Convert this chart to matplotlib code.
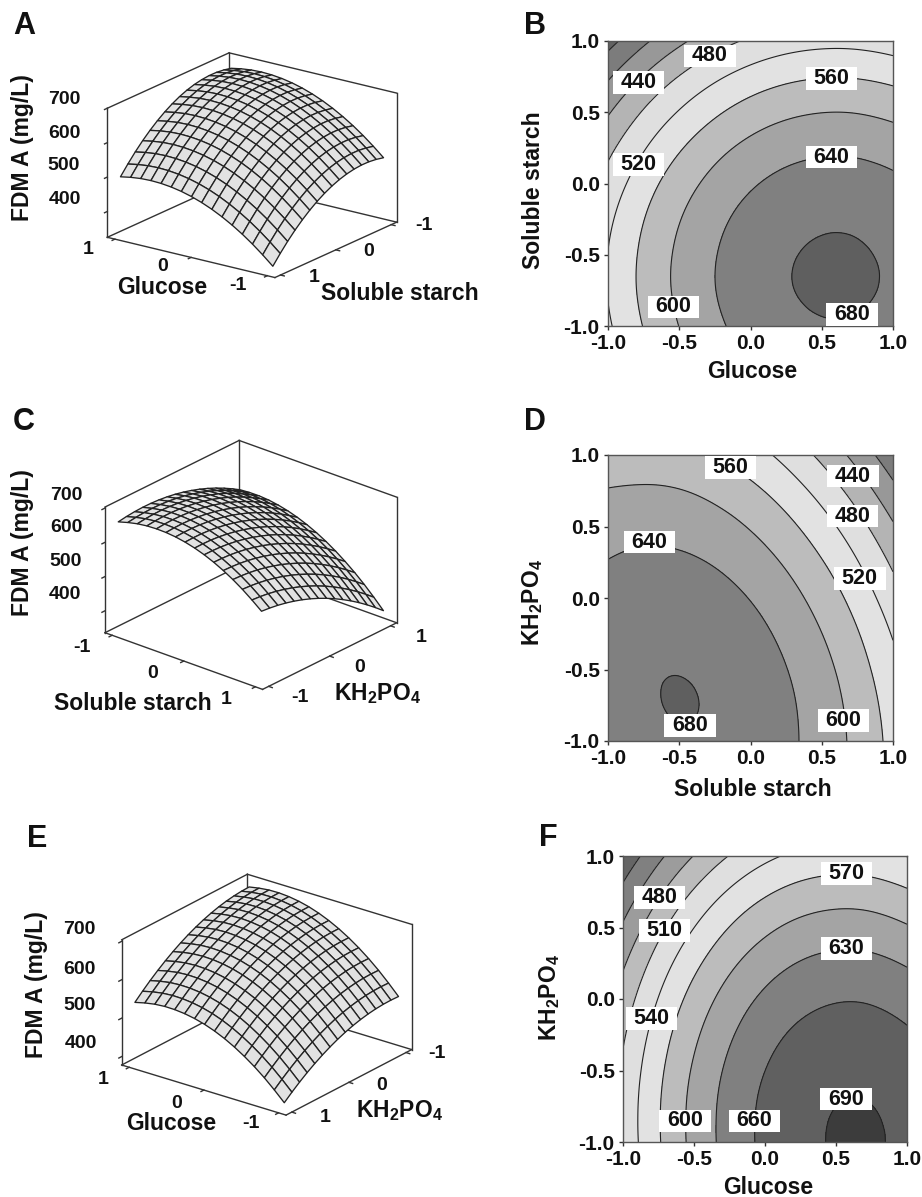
import numpy as np
import matplotlib
matplotlib.use("Agg")
import matplotlib.pyplot as plt
import matplotlib.tri as mtri
from matplotlib.patches import Rectangle
from mpl_toolkits.mplot3d import proj3d

FIG_W, FIG_H = 922, 1197

plt.rcParams['font.family'] = ['Liberation Sans', 'DejaVu Sans']
plt.rcParams['font.weight'] = 'bold'
plt.rcParams['mathtext.fontset'] = 'custom'
plt.rcParams['mathtext.rm'] = 'Liberation Sans:bold'
plt.rcParams['mathtext.bf'] = 'Liberation Sans:bold'
plt.rcParams['mathtext.default'] = 'regular'

KH2PO4 = r'KH$_{2}$PO$_{4}$'

# coded factor levels the response was read at
grid_levels = [-1.0, -0.75, -0.5, -0.25, 0.0, 0.25, 0.5, 0.75, 1.0]

# FDM A (mg/L), rows go with y = -1 .. 1, columns with x = -1 .. 1
glucose_starch_z = [
    [514.2, 561.4, 600.6, 631.8, 655.0, 670.2, 677.4, 676.6, 667.8],
    [521.6, 568.8, 608.0, 639.2, 662.4, 677.6, 684.8, 684.0, 675.2],
    [520.7, 567.9, 607.1, 638.3, 661.5, 676.7, 683.9, 683.1, 674.3],
    [511.8, 559.0, 598.2, 629.4, 652.6, 667.8, 675.0, 674.2, 665.4],
    [494.7, 541.9, 581.1, 612.3, 635.5, 650.7, 657.9, 657.1, 648.3],
    [469.5, 516.7, 555.9, 587.1, 610.3, 625.5, 632.7, 631.9, 623.1],
    [436.2, 483.4, 522.6, 553.8, 577.0, 592.2, 599.4, 598.6, 589.8],
    [394.8, 442.0, 481.2, 512.4, 535.6, 550.8, 558.0, 557.2, 548.4],
    [345.2, 392.4, 431.6, 462.8, 486.0, 501.2, 508.4, 507.6, 498.8],
]
starch_kh2po4_z = [
    [658.4, 672.2, 678.0, 676.0, 666.1, 648.4, 622.7, 589.2, 547.8],
    [664.2, 676.5, 681.0, 677.5, 666.2, 647.0, 619.9, 585.0, 542.1],
    [665.4, 676.3, 679.3, 674.4, 661.6, 641.0, 612.5, 576.1, 531.8],
    [662.0, 671.4, 672.9, 666.6, 652.4, 630.3, 600.4, 562.6, 516.9],
    [653.9, 661.9, 662.0, 654.2, 638.6, 615.1, 583.7, 544.4, 497.3],
    [641.2, 647.7, 646.4, 637.2, 620.1, 595.2, 562.4, 521.7, 473.1],
    [623.9, 629.0, 626.2, 615.6, 597.1, 570.7, 536.4, 494.3, 444.3],
    [601.9, 604.6, 601.4, 589.3, 569.4, 541.5, 505.8, 462.3, 410.8],
    [575.3, 577.6, 571.9, 558.4, 537.0, 507.8, 470.6, 425.6, 372.7],
]
glucose_kh2po4_z = [
    [518.0, 567.2, 608.4, 641.4, 666.3, 683.1, 691.7, 692.2, 684.6],
    [518.5, 567.4, 608.2, 640.8, 665.4, 681.8, 690.0, 690.2, 682.2],
    [514.6, 563.1, 603.5, 635.8, 659.9, 675.9, 683.8, 683.6, 675.3],
    [506.2, 554.3, 594.3, 626.2, 650.0, 665.6, 673.2, 672.6, 663.8],
    [493.3, 541.0, 580.7, 612.2, 635.6, 650.8, 658.0, 657.0, 647.9],
    [475.8, 523.2, 562.5, 593.6, 616.6, 631.5, 638.3, 636.9, 627.5],
    [453.9, 500.9, 539.8, 570.6, 593.2, 607.7, 614.1, 612.4, 602.5],
    [427.5, 474.1, 512.6, 543.0, 565.3, 579.4, 585.4, 583.3, 573.1],
    [396.5, 442.8, 480.9, 511.0, 532.9, 546.6, 552.3, 549.8, 539.2],
]

contour_ticks = [-1.0, -0.5, 0.0, 0.5, 1.0]
contour_ticklabels = ['-1.0', '-0.5', '0.0', '0.5', '1.0']
surface_z_ticks = [400, 500, 600, 700]
surface_xy_ticks = [-1, 0, 1]

levels_40 = [360, 400, 440, 480, 520, 560, 600, 640, 680]
greys_40 = ['#626262', '#7c7c7c', '#989898', '#b4b4b4', '#dfdfdf', '#e2e2e2',
            '#bcbcbc', '#a4a4a4', '#808080', '#5f5f5f']
levels_30 = [420, 450, 480, 510, 540, 570, 600, 630, 660, 690]
greys_30 = ['#656565', '#808080', '#9c9c9c', '#bcbcbc', '#dfdfdf', '#e2e2e2',
            '#bcbcbc', '#a4a4a4', '#808080', '#606060', '#3c3c3c']

labels_b = [('440', -0.786, 0.708), ('480', -0.285, 0.895), ('560', 0.568, 0.738),
            ('520', -0.786, 0.135), ('640', 0.568, 0.185), ('600', -0.54, -0.865),
            ('680', 0.711, -0.92)]
labels_d = [('560', -0.14, 0.911), ('440', 0.72, 0.853), ('480', 0.716, 0.573),
            ('640', -0.709, 0.391), ('520', 0.767, 0.137), ('600', 0.653, -0.858),
            ('680', -0.423, -0.893)]
labels_f = [('480', -0.742, 0.709), ('570', 0.573, 0.879), ('510', -0.707, 0.478),
            ('630', 0.573, 0.355), ('540', -0.80, -0.136), ('690', 0.568, -0.70),
            ('600', -0.561, -0.853), ('660', -0.075, -0.853)]

fig = plt.figure(figsize=(FIG_W / 100, FIG_H / 100), dpi=100)


def put_text(x, y, s, size=16.5, rotation=0):
    # x, y in image pixels, y going down
    fig.text(x / FIG_W, 1 - y / FIG_H, s, fontsize=size, fontweight='bold', color='#111111',
             ha='center', va='center', rotation=rotation)


def smooth(z, xi, yi):
    # the read grid goes through matplotlib's cubic triangle interpolator for drawing
    gx, gy = np.meshgrid(grid_levels, grid_levels)
    tri = mtri.Triangulation(gx.ravel(), gy.ravel())
    interp = mtri.CubicTriInterpolator(tri, np.array(z).ravel(), kind='min_E')
    xx, yy = np.meshgrid(xi, yi)
    return xx, yy, np.ma.filled(interp(xx, yy), np.nan)


def contour_panel(box, z, levels, greys, labels):
    x0, y0, x1, y1 = box
    ax = fig.add_axes([x0 / FIG_W, 1 - y1 / FIG_H, (x1 - x0) / FIG_W, (y1 - y0) / FIG_H])
    fine = np.linspace(-1, 1, 241)
    xx, yy, zz = smooth(z, fine, fine)
    bounds = [0] + levels + [1000]
    ax.contourf(xx, yy, zz, levels=bounds, colors=greys)
    ax.contour(xx, yy, zz, levels=levels, colors='#222222', linewidths=0.8)
    for text, lx, ly in labels:
        ax.add_patch(Rectangle((lx - 0.182, ly - 0.079), 0.364, 0.158, fc='white', ec='none', zorder=4))
        ax.text(lx, ly, text, ha='center', va='center', fontsize=15.5, fontweight='bold',
                color='#111111', zorder=5)
    ax.set_xlim(-1, 1)
    ax.set_ylim(-1, 1)
    ax.set_xticks(contour_ticks)
    ax.set_yticks(contour_ticks)
    ax.set_xticklabels(contour_ticklabels)
    ax.set_yticklabels(contour_ticklabels)
    ax.tick_params(length=3, width=1, labelsize=15, pad=3, color='#333333', labelcolor='#111111')
    for side in ax.spines.values():
        side.set_color('#555555')
        side.set_linewidth(1.0)
    return ax


def surface_panel(z, flip, zlim, azim, elev, height, left_px, right_px):
    ax = fig.add_axes([0, 0, 0.4, 0.4], projection='3d')
    ax.set_proj_type('ortho')
    ax.computed_zorder = False
    ax.set_axis_off()
    ax.patch.set_visible(False)
    edge = 1.1
    ax.set_xlim(-edge, edge, view_margin=0)
    ax.set_ylim(-edge, edge, view_margin=0)
    ax.set_zlim(zlim[0], zlim[1], view_margin=0)
    ax.view_init(elev=elev, azim=azim)
    ax.set_box_aspect((1, 1, height))

    # corners of the floor as seen on the page
    left = (flip * edge, flip * edge)
    front = (-flip * edge, flip * edge)
    right = (-flip * edge, -flip * edge)
    back = (flip * edge, -flip * edge)
    lo, hi = zlim
    line = dict(color='#333333', lw=1.0, zorder=1)
    for a, b in [(left, front), (front, right), (right, back), (back, left)]:
        ax.plot([a[0], b[0]], [a[1], b[1]], [lo, lo], **line)
    for a in [left, back, right]:
        ax.plot([a[0], a[0]], [a[1], a[1]], [lo, hi], **line)
    for a, b in [(left, back), (back, right)]:
        ax.plot([a[0], b[0]], [a[1], b[1]], [hi, hi], **line)

    # small ticks
    out = 0.05
    for t in surface_z_ticks:
        ax.plot([left[0], left[0]], [left[1], left[1] + flip * out], [t, t], **line)
    for t in surface_xy_ticks:
        ax.plot([t, t], [front[1], front[1] + flip * out], [lo, lo], **line)
        ax.plot([front[0], front[0] - flip * out], [t, t], [lo, lo], **line)

    mesh = np.linspace(-1, 1, 16)
    xx, yy, zz = smooth(z, mesh, mesh)
    ax.plot_surface(xx, yy, zz, rstride=1, cstride=1, color='#e2e2e2', edgecolor='#222222',
                    linewidth=0.95, shade=False, antialiased=True, zorder=3)

    # move the axes so the floor corners land where they are in the picture
    size = 400
    ax.set_position([0, 0, size / FIG_W, size / FIG_H])
    ax.apply_aspect()
    M = ax.get_proj()
    pts = []
    for c in (left, right):
        px, py, _ = proj3d.proj_transform(c[0], c[1], lo, M)
        pts.append(ax.transData.transform((px, py)))
    scale = (right_px[0] - left_px[0]) / (pts[1][0] - pts[0][0])
    new_left = left_px[0] - scale * pts[0][0]
    new_bottom = (FIG_H - left_px[1]) - scale * pts[0][1]
    ax.set_position([new_left / FIG_W, new_bottom / FIG_H, scale * size / FIG_W, scale * size / FIG_H])
    return ax


# ---------- left column ----------
surface_panel(glucose_starch_z, 1, (325, 700), 126, 19.3, 0.66, (107.3, 237.3), (396.7, 218.3))
surface_panel(starch_kh2po4_z, -1, (336, 703), -49.6, 25, 0.67, (105, 632.7), (396.7, 626.7))
surface_panel(glucose_kh2po4_z, 1, (378, 704), 127.4, 23.5, 0.66, (121.7, 1065), (411.7, 1042.7))

# ---------- right column ----------
contour_panel((608, 41, 893, 326), glucose_starch_z, levels_40, greys_40, labels_b)
contour_panel((608, 455, 893, 741), starch_kh2po4_z, levels_40, greys_40, labels_d)
contour_panel((623, 856, 907, 1142), glucose_kh2po4_z, levels_30, greys_30, labels_f)

# panel letters
for s, x, y in [('A', 24, 26), ('B', 535, 26), ('C', 24, 422), ('D', 535, 422), ('E', 37, 839), ('F', 548, 838)]:
    put_text(x, y, s, size=22)

# contour axis titles
put_text(752, 372, 'Glucose')
put_text(533, 190, 'Soluble starch', rotation=90)
put_text(753, 789, 'Soluble starch')
put_text(533, 603, KH2PO4, rotation=90)
put_text(768, 1187, 'Glucose')
put_text(550, 998, KH2PO4, rotation=90)

# surface panel texts
put_text(23, 148, 'FDM A (mg/L)', rotation=90)
for s, x, y in [('700', 64, 100), ('600', 64, 134), ('500', 64, 166), ('400', 65, 200),
                ('1', 88, 250), ('0', 163, 267), ('-1', 238, 285),
                ('1', 314, 278), ('0', 369, 252), ('-1', 424, 226)]:
    put_text(x, y, s, size=14)
put_text(162, 288, 'Glucose')
put_text(400, 293, 'Soluble starch')

put_text(23, 543, 'FDM A (mg/L)', rotation=90)
for s, x, y in [('700', 66, 496), ('600', 66, 528), ('500', 66, 562), ('400', 65, 595),
                ('-1', 82, 648), ('0', 153, 673), ('1', 226, 700),
                ('1', 421, 638), ('0', 360, 668), ('-1', 300, 698)]:
    put_text(x, y, s, size=14)
put_text(133, 704, 'Soluble starch')
put_text(377, 694, KH2PO4)

put_text(37, 985, 'FDM A (mg/L)', rotation=90)
for s, x, y in [('700', 79, 930), ('600', 79, 969), ('500', 80, 1006), ('400', 81, 1044),
                ('1', 103, 1080), ('0', 177, 1103), ('-1', 251, 1124),
                ('1', 325, 1118), ('0', 382, 1086), ('-1', 437, 1054)]:
    put_text(x, y, s, size=14)
put_text(171, 1124, 'Glucose')
put_text(399, 1111, KH2PO4)

fig.savefig('out.png', dpi=100, facecolor='white')
